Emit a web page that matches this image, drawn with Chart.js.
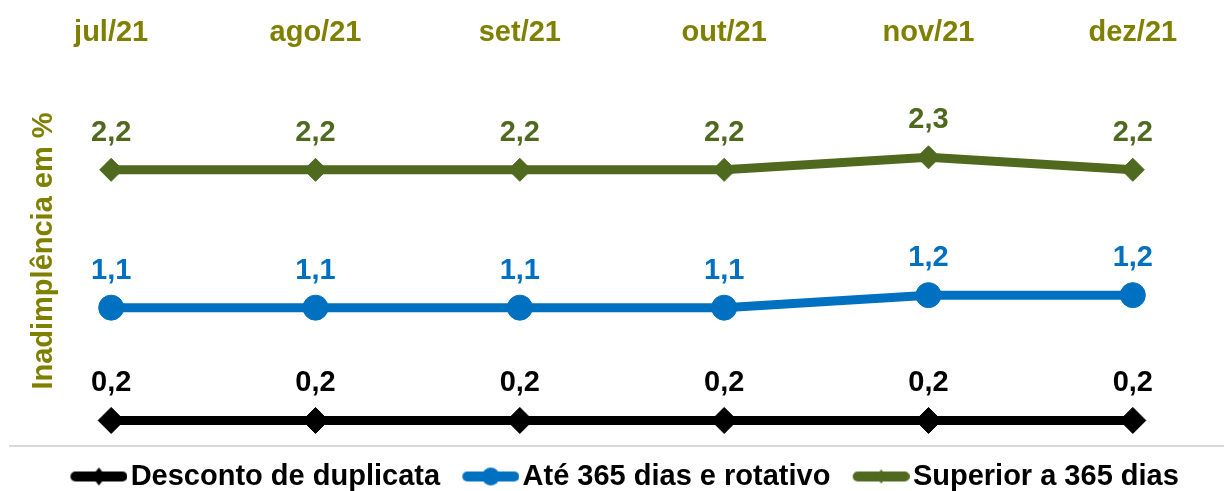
<!DOCTYPE html>
<html>
<head>
<meta charset="utf-8">
<script src="https://cdn.jsdelivr.net/npm/chart.js@4/dist/chart.umd.min.js"></script>
<style>
  html, body { margin:0; padding:0; background:#fff; overflow:hidden; }
  #wrap { width:1224px; height:491px; overflow:hidden; position:relative; }
  #c { display:block; margin-top:-20px; margin-left:-5px; }
</style>
</head>
<body>
<div id="wrap"><canvas id="c" width="1254" height="521"></canvas></div>
<script>
// Inadimplência por modalidade (em %)
const meses = ['jul/21', 'ago/21', 'set/21', 'out/21', 'nov/21', 'dez/21'];
const desconto = [0.2, 0.2, 0.2, 0.2, 0.2, 0.2];
const ate365 = [1.1, 1.1, 1.1, 1.1, 1.2, 1.2];
const superior365 = [2.2, 2.2, 2.2, 2.2, 2.3, 2.2];
const yTitulo = 'Inadimplência em %';

const OLIVA = '#808000';
const VERDE = '#4f6a1f';
const AZUL = '#0070c0';
const PRETO = '#000000';
const FONTE = '"Liberation Sans", Arial, sans-serif';

// simbolo da legenda: linha grossa com marcador no meio
function simbolo(cor, tipo, r){
  const cv = document.createElement('canvas');
  cv.width = 74; cv.height = 26;
  const g = cv.getContext('2d');
  g.strokeStyle = cor; g.fillStyle = cor;
  g.lineWidth = 10; g.lineCap = 'round';
  g.beginPath(); g.moveTo(22, 13); g.lineTo(69, 13); g.stroke();
  const cx = 45.5, cy = 13;
  g.beginPath();
  if (tipo === 'circle') { g.arc(cx, cy, r, 0, Math.PI*2); }
  else { g.moveTo(cx - r*0.8, cy); g.lineTo(cx, cy - r); g.lineTo(cx + r*0.8, cy); g.lineTo(cx, cy + r); g.closePath(); }
  g.fill();
  return cv;
}

const simbolos = [simbolo(PRETO, 'diamond', 9), simbolo(AZUL, 'circle', 9), simbolo(VERDE, 'diamond', 7)];

// rotulos de valores acima dos pontos
const rotulos = {
  id: 'rotulos',
  afterDatasetsDraw(chart){
    const ctx = chart.ctx;
    ctx.save();
    ctx.font = 'bold 29px ' + FONTE;
    ctx.textAlign = 'center';
    ctx.textBaseline = 'alphabetic';
    chart.data.datasets.forEach((ds, i) => {
      const meta = chart.getDatasetMeta(i);
      ctx.fillStyle = ds.corRotulo;
      meta.data.forEach((pt, j) => {
        ctx.fillText(ds.data[j].toFixed(1).replace('.', ','), pt.x, pt.y - 29);
      });
    });
    // titulo do eixo y, sobreposto a area do grafico
    ctx.translate(57, 271);
    ctx.rotate(-Math.PI/2);
    ctx.fillStyle = OLIVA;
    ctx.fillText(yTitulo, 0, 0);
    ctx.restore();
  }
};

new Chart(document.getElementById('c'), {
  type: 'line',
  data: {
    labels: meses,
    datasets: [
      { label: 'Desconto de duplicata', data: desconto, borderColor: PRETO, backgroundColor: PRETO, corRotulo: PRETO,
        borderWidth: 9, pointStyle: 'rectRot', pointRadius: 13, pointBorderWidth: 1, tension: 0 },
      { label: 'Até 365 dias e rotativo', data: ate365, borderColor: AZUL, backgroundColor: AZUL, corRotulo: AZUL,
        borderWidth: 9, pointStyle: 'circle', pointRadius: 12.5, pointBorderWidth: 1, tension: 0 },
      { label: 'Superior a 365 dias', data: superior365, borderColor: VERDE, backgroundColor: VERDE, corRotulo: VERDE,
        borderWidth: 9, pointStyle: 'rectRot', pointRadius: 11.5, pointBorderWidth: 1, tension: 0 }
    ]
  },
  options: {
    responsive: false,
    animation: false,
    clip: false,
    layout: { padding: { top: 15.6, left: 4, right: 4.5, bottom: 0 } },
    plugins: {
      tooltip: { enabled: false },
      legend: {
        position: 'bottom',
        labels: {
          color: PRETO,
          font: { family: FONTE, size: 29, weight: 'bold' },
          usePointStyle: true,
          pointStyleWidth: 51.5,
          padding: 16.5,
          generateLabels: (chart) => chart.data.datasets.map((ds, i) => ({
            text: ds.label, pointStyle: simbolos[i], datasetIndex: i, hidden: false,
            fontColor: PRETO, lineWidth: 0, strokeStyle: 'transparent', fillStyle: 'transparent'
          }))
        }
      }
    },
    scales: {
      x: {
        position: 'top',
        offset: true,
        grid: { display: false, drawTicks: false },
        border: { display: false },
        ticks: { color: OLIVA, font: { family: FONTE, size: 29, weight: 'bold' }, padding: 19.6, maxRotation: 0, autoSkip: false }
      },
      y: {
        min: 0, max: 3,
        ticks: { display: false, stepSize: 0.5 },
        border: { display: false },
        grid: {
          drawTicks: false,
          lineWidth: 2,
          color: (c) => (c.tick && c.tick.value === 0) ? '#d9d9d9' : 'rgba(0,0,0,0)'
        }
      }
    }
  },
  plugins: [rotulos]
});
</script>
</body>
</html>
